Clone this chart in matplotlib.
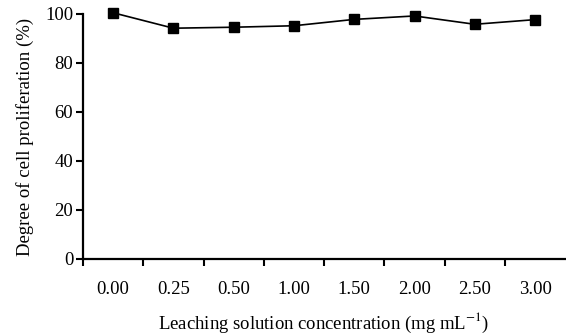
import matplotlib
matplotlib.use('Agg')
import matplotlib.pyplot as plt
import numpy as np

# data
concentrations = ['0.00', '0.25', '0.50', '1.00', '1.50', '2.00', '2.50', '3.00']
proliferation = [100.5, 94.2, 94.6, 95.2, 97.8, 99.2, 95.8, 97.7]
y_ticks = [0, 20, 40, 60, 80, 100]

plt.rcParams['font.family'] = 'Liberation Serif'
plt.rcParams['mathtext.fontset'] = 'stix'
plt.rcParams['font.size'] = 13.5

fig = plt.figure(figsize=(5.66, 3.34), dpi=100)
ax = fig.add_axes([0.1466, 0.2246, 0.852, 0.7335])

x = np.arange(len(concentrations))
ax.plot(x, proliferation, color='black', lw=1.2, marker='s', ms=7.2,
        mfc='black', mec='black', clip_on=False, zorder=3)

ax.set_xlim(-0.5, len(concentrations) - 0.5)
ax.set_ylim(0, 100)
ax.set_yticks(y_ticks)

# boundary ticks unlabeled, labels at category centres
ax.set_xticks(np.arange(-0.5, len(concentrations) - 0.5, 1.0))
ax.set_xticklabels([])
ax.set_xticks(x, minor=True)
ax.set_xticklabels(concentrations, minor=True)
ax.tick_params(axis='x', which='minor', length=0, pad=16)
ax.tick_params(axis='x', which='major', length=5, width=1.5, direction='out')
ax.tick_params(axis='y', length=5, width=1.5, direction='out', pad=2)

for s in ['top', 'right']:
    ax.spines[s].set_visible(False)
for s in ['left', 'bottom']:
    ax.spines[s].set_linewidth(1.6)

ax.set_xlabel(r'Leaching solution concentration (mg mL$^{-1}$)', labelpad=9)
ax.set_ylabel('Degree of cell proliferation (%)', labelpad=8)

fig.savefig('out.png', dpi=100)
